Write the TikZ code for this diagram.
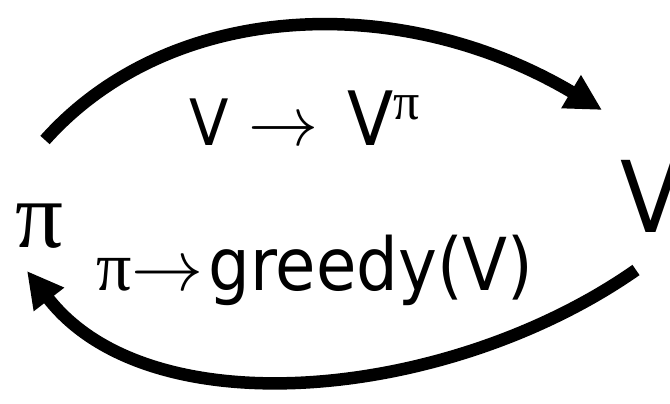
\documentclass[tikz,border=0pt]{standalone}
\usepackage{fix-cm}
\usepackage{fontspec}
\setmainfont[FakeStretch=0.9]{DejaVu Sans}
\newfontfamily\greekfont{Liberation Serif}
\usetikzlibrary{arrows.meta}
\newcommand{\fsz}[1]{\fontsize{#1}{#1}\selectfont}
\tikzset{
  cyc/.style={line width=12.5pt, -{Triangle[length=36pt,width=36pt]}},
  lbl/.style={inner sep=0pt, outer sep=0pt, anchor=base west}
}
\begin{document}
\begin{tikzpicture}[x=1pt,y=-1pt]
\useasboundingbox (0,0) rectangle (670,404);
% end nodes
\node[lbl] (pi) at (16,247) {\greekfont\fsz{95}π};
\node[lbl] (V) at (620,232) {\fsz{99}V};
% labels
\node[lbl] (top) at (189,145) {\fsz{64}V\hspace{20pt}{\fsz{70}$\rightarrow$}\hspace{29pt}{\fsz{75}V}\raisebox{26pt}{\greekfont\fsz{52}π}};
\node[lbl] (bot) at (96,290) {{\greekfont\fsz{70}π}{\fsz{72}$\rightarrow$}\hspace{5pt}{\fsz{73}greedy(V)}};
% connectors
\coordinate (t0) at (45,140);
\coordinate (t1) at (602,110);
\coordinate (b0) at (636,270);
\coordinate (b1) at (27,271);
\draw[cyc] (t0) .. controls (170,0) and (400,-10) .. (t1);
\draw[cyc] (b0) .. controls (450,400) and (150,430) .. (b1);
\end{tikzpicture}
\end{document}
